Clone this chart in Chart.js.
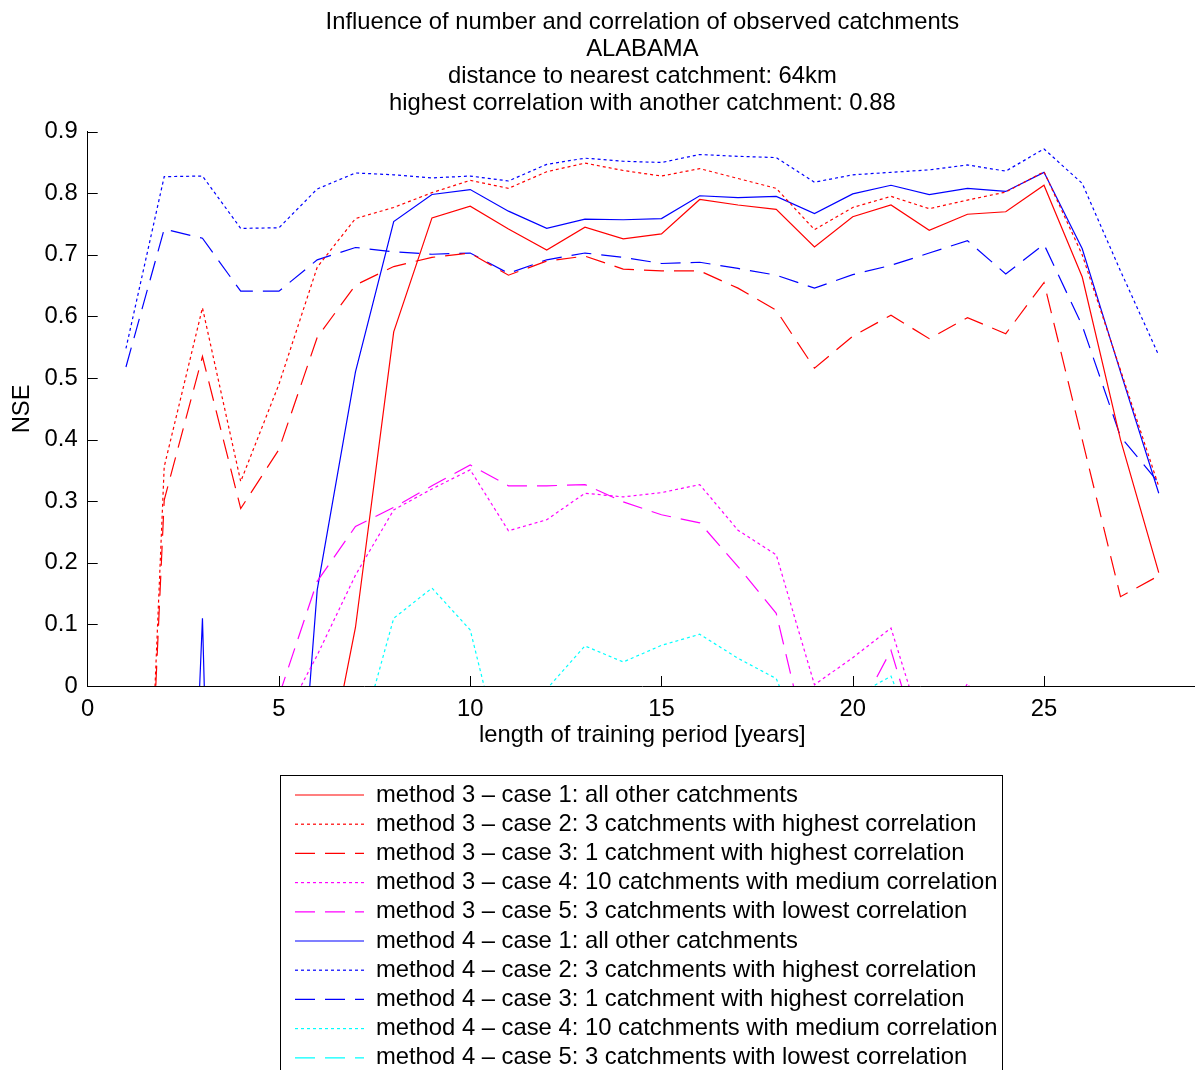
<html>
<head>
<title>Influence of number and correlation of observed catchments</title>
<style>
  body { margin: 0; overflow: hidden; background: #fff; }
  #wrap { width: 1200px; height: 1070px; }
</style>
</head>
<body>
<div id="wrap"><canvas id="myChart" width="1200" height="1070"></canvas></div>
<script src="https://cdn.jsdelivr.net/npm/chart.js@4.4.0/dist/chart.umd.min.js"></script>
<script>
// length of training period [years]
const years = [1, 2, 3, 4, 5, 6, 7, 8, 9, 10, 11, 12, 13, 14, 15, 16, 17, 18, 19, 20, 21, 22, 23, 24, 25, 26, 27, 28];

// NSE per series (values below 0 fall outside the axis and get clipped, null = not drawn)
const m3c1 = [null, null, null, null, null, -0.22, 0.095, 0.575, 0.760, 0.779, 0.742, 0.708, 0.745, 0.726, 0.734, 0.790, 0.781, 0.774, 0.713, 0.762, 0.781, 0.740, 0.766, 0.770, 0.813, 0.664, 0.400, 0.184];
const m3c2 = [-1.13, 0.356, 0.614, 0.332, 0.490, 0.680, 0.759, 0.777, 0.801, 0.821, 0.808, 0.835, 0.849, 0.837, 0.828, 0.840, 0.824, 0.808, 0.741, 0.777, 0.795, 0.775, 0.789, 0.802, 0.835, 0.700, 0.513, 0.324];
const m3c3 = [-1.07, 0.302, 0.535, 0.288, 0.384, 0.566, 0.651, 0.681, 0.696, 0.703, 0.667, 0.690, 0.698, 0.677, 0.674, 0.674, 0.646, 0.610, 0.516, 0.568, 0.602, 0.564, 0.598, 0.572, 0.655, 0.400, 0.145, 0.179];
const m3c4 = [null, null, null, null, -0.068, 0.050, 0.180, 0.286, 0.320, 0.351, 0.252, 0.270, 0.313, 0.307, 0.314, 0.327, 0.253, 0.213, 0.002, 0.046, 0.094, -0.106, 0.004, -0.10, null, null, null, null];
const m3c5 = [null, null, null, null, -0.016, 0.170, 0.259, 0.290, 0.325, 0.359, 0.325, 0.325, 0.327, 0.299, 0.278, 0.265, 0.194, 0.118, -0.144, -0.060, 0.058, -0.150, null, null, null, null, null, null];
const m4c1 = [null, -1.4, 0.110, -2.2, -0.65, 0.156, 0.510, 0.754, 0.798, 0.806, 0.771, 0.743, 0.758, 0.757, 0.759, 0.796, 0.793, 0.795, 0.767, 0.799, 0.813, 0.798, 0.808, 0.803, 0.834, 0.710, 0.510, 0.313];
const m4c2 = [0.548, 0.827, 0.828, 0.743, 0.744, 0.807, 0.833, 0.830, 0.825, 0.828, 0.820, 0.847, 0.857, 0.852, 0.850, 0.863, 0.860, 0.858, 0.818, 0.830, 0.834, 0.838, 0.846, 0.836, 0.872, 0.816, 0.674, 0.537];
const m4c3 = [0.518, 0.742, 0.727, 0.641, 0.641, 0.692, 0.712, 0.705, 0.701, 0.703, 0.670, 0.692, 0.703, 0.696, 0.686, 0.688, 0.678, 0.667, 0.646, 0.668, 0.683, 0.703, 0.723, 0.669, 0.717, 0.585, 0.405, 0.330];
const m4c4 = [null, null, null, null, null, null, -0.114, 0.110, 0.159, 0.091, -0.160, -0.005, 0.065, 0.039, 0.066, 0.084, 0.045, 0.012, -0.140, -0.019, 0.016, -0.140, null, null, null, null, null, null];
const m4c5 = [null, null, null, null, null, null, null, null, null, null, null, null, null, null, null, null, null, null, null, null, null, null, null, null, null, null, null, null];

const seriesNames = [
    'method 3 \u2013 case 1: all other catchments',
    'method 3 \u2013 case 2: 3 catchments with highest correlation',
    'method 3 \u2013 case 3: 1 catchment with highest correlation',
    'method 3 \u2013 case 4: 10 catchments with medium correlation',
    'method 3 \u2013 case 5: 3 catchments with lowest correlation',
    'method 4 \u2013 case 1: all other catchments',
    'method 4 \u2013 case 2: 3 catchments with highest correlation',
    'method 4 \u2013 case 3: 1 catchment with highest correlation',
    'method 4 \u2013 case 4: 10 catchments with medium correlation',
    'method 4 \u2013 case 5: 3 catchments with lowest correlation'
];
const seriesValues = [m3c1, m3c2, m3c3, m3c4, m3c5, m4c1, m4c2, m4c3, m4c4, m4c5];
const seriesColors = ['#ff0000', '#ff0000', '#ff0000', '#ff00ff', '#ff00ff', '#0000ff', '#0000ff', '#0000ff', '#00ffff', '#00ffff'];
const solid = [], dotted = [3, 3], dashed = [20, 10];
const seriesDash = [solid, dotted, dashed, dotted, dashed, solid, dotted, dashed, dotted, dashed];

const titleLines = [
    'Influence of number and correlation of observed catchments',
    'ALABAMA',
    'distance to nearest catchment: 64km',
    'highest correlation with another catchment: 0.88'
];

const FS = 23.8; // font size used everywhere

var datasets = [];
for (var i = 0; i < seriesNames.length; i++) {
    datasets.push({
        label: seriesNames[i],
        data: years.map((yr, j) => ({x: yr, y: seriesValues[i][j]})),
        borderColor: seriesColors[i],
        backgroundColor: seriesColors[i],
        borderDash: seriesDash[i],
        borderWidth: 1.2,
        pointRadius: 0,
        tension: 0,
        spanGaps: false
    });
}

// inward tick marks (matlab style), legend placement and the legend frame
const extras = {
    id: 'extras',
    afterLayout(chart) {
        const lg = chart.legend;
        lg.left = 289.6;
        lg.right = 1002;
        lg.width = lg.right - lg.left;
        lg.top = 777.7;
        lg.bottom = 1100;
        lg.height = lg.bottom - lg.top;
    },
    afterDatasetsDraw(chart) {
        const {ctx, chartArea, scales} = chart;
        ctx.save();
        ctx.strokeStyle = '#000';
        ctx.lineWidth = 1;
        ctx.beginPath();
        scales.x.ticks.forEach(t => {
            if (t.value === 0) return; // sits on the y axis line
            const px = Math.round(scales.x.getPixelForValue(t.value)) + 0.5;
            ctx.moveTo(px, chartArea.bottom);
            ctx.lineTo(px, chartArea.bottom - 10);
        });
        scales.y.ticks.forEach(t => {
            if (t.value === 0) return;
            const py = Math.round(scales.y.getPixelForValue(t.value)) + 0.5;
            ctx.moveTo(chartArea.left, py);
            ctx.lineTo(chartArea.left + 10, py);
        });
        ctx.stroke();
        ctx.restore();
    },
    afterDraw(chart) {
        const ctx = chart.ctx;
        ctx.save();
        ctx.strokeStyle = '#000';
        ctx.lineWidth = 1;
        ctx.strokeRect(280.5, 775.5, 722, 330);
        ctx.restore();
    }
};

Chart.defaults.font.family = "'Liberation Sans', Arial, Helvetica, sans-serif";
Chart.defaults.color = '#000';

var ctx = document.getElementById('myChart').getContext('2d');
var chart = new Chart(ctx, {
    type: 'line',
    data: { datasets: datasets },
    plugins: [extras],
    options: {
        responsive: false,
        animation: false,
        devicePixelRatio: 1,
        layout: { padding: { left: 0, right: 3, top: 0, bottom: 70 } },
        scales: {
            x: {
                type: 'linear',
                min: 0,
                max: 29,
                afterFit: (s) => { s.height = 64; },
                grid: { display: false, drawTicks: false },
                border: { display: true, color: '#000', width: 1 },
                ticks: { stepSize: 5, includeBounds: false, padding: 8.7, maxRotation: 0, font: { size: FS }, color: '#000' },
                title: { display: true, text: 'length of training period [years]', font: { size: FS }, color: '#000', padding: { top: 0, bottom: 0 } }
            },
            y: {
                min: 0,
                max: 0.9,
                afterFit: (s) => { s.width = 87.7; },
                grid: { display: false, drawTicks: false },
                border: { display: true, color: '#000', width: 1 },
                ticks: { stepSize: 0.1, padding: 10, font: { size: FS }, color: '#000' },
                title: { display: true, text: 'NSE', font: { size: FS }, color: '#000', padding: { top: 7.7, bottom: 0 } }
            }
        },
        plugins: {
            title: {
                display: true,
                fullSize: false,
                text: titleLines,
                color: '#000',
                font: { size: FS, weight: 'normal', lineHeight: 27 / FS },
                padding: { top: 8.5, bottom: 15.2 }
            },
            legend: {
                display: true,
                position: 'bottom',
                align: 'start',
                maxHeight: 250,
                labels: {
                    usePointStyle: true,
                    pointStyle: 'line',
                    pointStyleWidth: 69,
                    padding: 5.4,
                    color: '#000',
                    font: { size: FS },
                    // take dash, width and colour from the dataset line itself
                    generateLabels: (chart) => {
                        const items = Chart.defaults.plugins.legend.labels.generateLabels(chart);
                        items.forEach(it => {
                            const ds = chart.data.datasets[it.datasetIndex];
                            it.lineDash = ds.borderDash;
                            it.lineWidth = ds.borderWidth;
                            it.strokeStyle = ds.borderColor;
                            it.pointStyle = 'line';
                        });
                        return items;
                    }
                }
            },
            tooltip: { enabled: false }
        }
    }
});
</script>
</body>
</html>
